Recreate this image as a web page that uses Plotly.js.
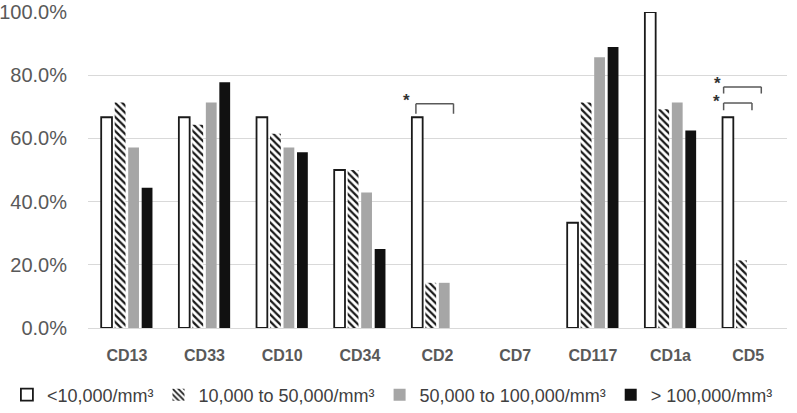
<!DOCTYPE html>
<html>
<head>
<meta charset="utf-8">
<script src="https://cdn.plot.ly/plotly-3.0.1.min.js"></script>
<style>html,body{margin:0;padding:0;background:#fff;}#chart{width:797px;height:413px;}</style>
</head>
<body>
<div id="chart"></div>
<script>
const categories = ['CD13', 'CD33', 'CD10', 'CD34', 'CD2', 'CD7', 'CD117', 'CD1a', 'CD5'];
const seriesNames = ['<10,000/mm³', '10,000 to 50,000/mm³', '50,000 to 100,000/mm³', '> 100,000/mm³'];
const under10k    = [0.667, 0.667, 0.667, 0.500, 0.667, 0, 0.333, 1.000, 0.667];
const from10to50k = [0.714, 0.643, 0.615, 0.500, 0.143, 0, 0.714, 0.692, 0.214];
const from50to100k= [0.571, 0.714, 0.571, 0.429, 0.143, 0, 0.857, 0.714, 0];
const over100k    = [0.444, 0.778, 0.556, 0.250, 0, 0, 0.889, 0.625, 0];

// significance brackets: [x0, x1, yTop, yBottom] in category-index / value units
const brackets = [
  [3.722, 4.206, 0.710, 0.678],
  [7.684, 8.169, 0.763, 0.742],
  [7.684, 8.049, 0.712, 0.689]
];
const stars = [[3.597, 0.721], [7.599, 0.775], [7.590, 0.718]];

const traces = [
  {name: seriesNames[0], y: under10k, marker: {color: '#ffffff',
    line: {color: '#1a1a1a', width: under10k.map(v => v > 0 ? 1.8 : 0)}}},
  {name: seriesNames[1], y: from10to50k, marker: {color: '#ffffff', line: {width: 0},
    pattern: {shape: '\\', fgcolor: '#1a1a1a', bgcolor: '#ffffff', size: 5, solidity: 0.45}}},
  {name: seriesNames[2], y: from50to100k, marker: {color: '#a6a6a6', line: {width: 0}}},
  {name: seriesNames[3], y: over100k, marker: {color: '#111111', line: {width: 0}}}
].map(t => Object.assign({type: 'bar', x: categories, hoverinfo: 'none'}, t));

const shapes = [];
brackets.forEach(b => {
  const ln = {type: 'line', xref: 'x', yref: 'y', line: {color: '#595959', width: 1.5}};
  shapes.push(Object.assign({x0: b[0], x1: b[1], y0: b[2], y1: b[2]}, ln));
  shapes.push(Object.assign({x0: b[0], x1: b[0], y0: b[2], y1: b[3]}, ln));
  shapes.push(Object.assign({x0: b[1], x1: b[1], y0: b[2], y1: b[3]}, ln));
});
const annotations = stars.map(s => ({x: s[0], y: s[1], xref: 'x', yref: 'y', text: '*', showarrow: false,
  font: {family: 'Liberation Sans, Arial, sans-serif', size: 17, color: '#333333', weight: 'bold'}}));

const layout = {
  width: 797, height: 413,
  margin: {l: 88, r: 10, t: 12, b: 85, autoexpand: false},
  paper_bgcolor: '#ffffff', plot_bgcolor: '#ffffff',
  barmode: 'group', bargap: 0.305, bargroupgap: 0.2,
  font: {family: 'Liberation Sans, Arial, sans-serif', color: '#595959'},
  xaxis: {type: 'category', showgrid: false, zeroline: false, showline: true, linecolor: '#d9d9d9', linewidth: 1,
    ticks: '', ticklabelstandoff: 13, automargin: false,
    tickfont: {family: 'Liberation Sans, Arial, sans-serif', size: 16, color: '#595959', weight: 'bold'}},
  yaxis: {range: [0, 1], tickvals: [0, 0.2, 0.4, 0.6, 0.8, 1.0], tickformat: '.1%', automargin: false,
    showgrid: true, gridcolor: '#d9d9d9', gridwidth: 1, zeroline: false, showline: false,
    ticks: '', ticklabelstandoff: 20,
    tickfont: {family: 'Liberation Sans, Arial, sans-serif', size: 20, color: '#595959'}},
  showlegend: true,
  legend: {orientation: 'h', x: -0.116, xanchor: 'left', y: -0.212, yanchor: 'middle',
    font: {family: 'Liberation Sans, Arial, sans-serif', size: 18, color: '#404040'},
    itemwidth: 30, tracegroupgap: 0, traceorder: 'normal'},
  shapes: shapes,
  annotations: annotations
};

Plotly.newPlot('chart', traces, layout, {displayModeBar: false, staticPlot: true});
</script>
</body>
</html>
